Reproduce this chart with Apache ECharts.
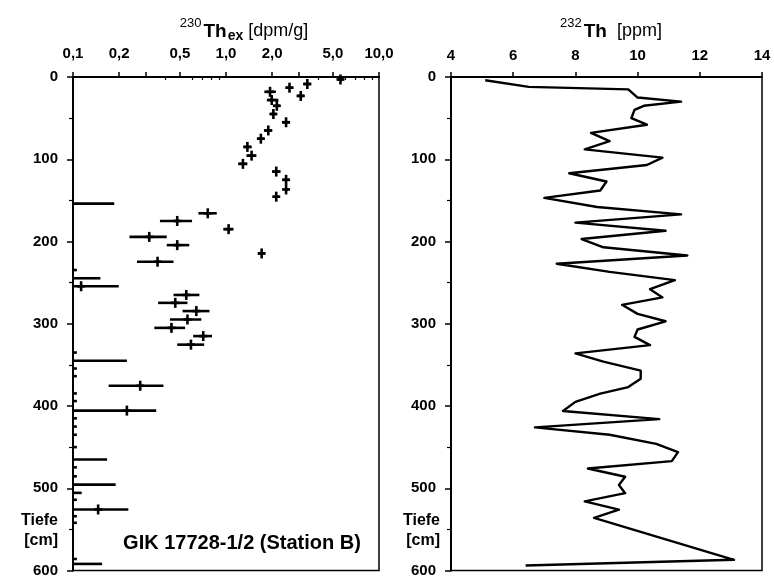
<!DOCTYPE html>
<html>
<head>
<meta charset="utf-8">
<script src="https://cdn.jsdelivr.net/npm/echarts@6/dist/echarts.min.js"></script>
<style>
html,body{margin:0;padding:0;background:#fff;}
#chart{width:774px;height:578px;}
</style>
</head>
<body>
<div id="chart"></div>
<script>
// ---------- Left panel: 230Th_ex [dpm/g] vs depth ----------
var thDepth = [3, 8.5, 13, 18, 23, 28, 35, 45, 55, 65, 75, 85, 95.6, 105.6, 115, 125, 136.7, 145.5,
  154, 165.7, 175, 185, 194.4, 204.4, 214.5, 224.6, 234.7, 244.7, 254.4, 265, 274.6, 284.6, 294.8,
  305, 315, 325.4, 335, 345, 354.4, 363.7, 375.4, 384.7, 394, 405.6, 415, 425, 435, 450, 465,
  474.6, 485.5, 495.6, 505.6, 514, 525.8, 534, 542, 586, 592];
var thValue = [5.6, 3.4, 2.6, 1.94, 3.08, 1.99, 2.15, 2.04, 2.47, 1.89, 1.69, 1.38, 1.47, 1.29, 2.13, 2.47, 2.47, 2.13,
  null, 0.76, 0.48, 1.04, 0.315, 0.48, 1.71, 0.357, null, null, 0.113, 0.55, 0.466, 0.64, 0.56,
  0.44, 0.71, 0.59, null, null, null, null, 0.275, null, null, 0.225, null, null, null, null, null,
  null, null, null, null, null, 0.146, null, null, null, null];
var thLow = [5.35, 3.2, 2.45, 1.78, 2.9, 1.85, 2.05, 1.95, 2.32, 1.77, 1.6, 1.3, 1.36, 1.2, 2.0, 2.35, 2.4, 2.07,
  0.1, 0.66, 0.37, 0.96, 0.234, 0.41, 1.62, 0.262, 0.1, 0.1, 0.1, 0.454, 0.36, 0.52, 0.43,
  0.34, 0.61, 0.48, 0.1, 0.1, 0.1, 0.1, 0.171, 0.1, 0.1, 0.1, 0.1, 0.1, 0.1, 0.1, 0.1,
  0.1, 0.1, 0.1, 0.1, 0.1, 0.1, 0.1, 0.1, 0.1, 0.1];
var thHigh = [5.85, 3.6, 2.75, 2.12, 3.25, 2.2, 2.25, 2.13, 2.62, 2.0, 1.78, 1.47, 1.58, 1.38, 2.27, 2.6, 2.55, 2.2,
  0.186, 0.87, 0.60, 1.12, 0.41, 0.575, 1.8, 0.454, 0.106, 0.151, 0.199, 0.67, 0.56, 0.78, 0.69,
  0.54, 0.81, 0.72, 0.106, 0.225, 0.106, 0.106, 0.39, 0.106, 0.106, 0.35, 0.106, 0.106, 0.106, 0.106, 0.167,
  0.106, 0.106, 0.19, 0.114, 0.106, 0.23, 0.106, 0.106, 0.106, 0.155];
var thTickLabels = [0.1, 0.2, 0.5, 1, 2, 5, 10];
var thMajorTicks = [0.1, 0.2, 0.3, 0.5, 1, 2, 3, 5, 10];
var thMinorTicks = [0.4, 0.6, 0.7, 0.8, 0.9, 4, 6, 7, 8, 9];

// ---------- Right panel: 232Th [ppm] vs depth ----------
var th232Depth = [4, 12, 15, 25, 30, 35, 40, 50, 58, 68, 78, 88, 98, 107, 117, 127, 138, 147, 158, 167,
  177, 187, 197, 207, 217, 227, 237, 247, 258, 268, 277, 288, 297, 307, 316, 326, 336, 346, 357,
  367, 377, 385, 395, 406, 416, 426, 435, 446, 456, 467, 476, 486, 496, 506, 516, 526, 536, 587, 594];
var th232Value = [5.1, 6.5, 9.7, 10.0, 11.4, 10.2, 9.9, 9.8, 10.3, 8.5, 9.1, 8.3, 10.8, 10.3, 7.8, 9.0, 8.8, 7.0, 8.7, 11.4,
  8.0, 10.9, 8.2, 8.9, 11.6, 7.4, 9.1, 11.2, 10.4, 10.8, 9.5, 10.0, 10.9, 10.0, 9.9, 10.4, 8.0, 8.9, 10.1,
  10.1, 9.7, 8.8, 8.0, 7.6, 10.7, 6.7, 9.1, 10.6, 11.3, 11.1, 8.4, 9.6, 9.4, 9.6, 8.3, 9.4, 8.6, 13.1, 6.4];
var th232Ticks = [4, 6, 8, 10, 12, 14];

var depthTicks = [0, 100, 200, 300, 400, 500, 600];

// ---------- build ----------
var FONT = "'Liberation Sans', Arial, Helvetica, sans-serif";
var barData = [], markData = [];
for (var i = 0; i < thDepth.length; i++) {
  barData.push([thLow[i], thHigh[i], thDepth[i]]);
  if (thValue[i] !== null) markData.push([thValue[i], thDepth[i]]);
}
var lineData = th232Depth.map(function (d, i) { return [th232Value[i], d]; });

function fmtComma(v) {
  var s = (Math.round(v * 10) / 10).toFixed(1);
  return s.replace('.', ',');
}

var chart = echarts.init(document.getElementById('chart'), null, {renderer: 'canvas'});
var labelStyle = {color: '#000', fontFamily: FONT, fontWeight: 'bold', fontSize: 15};

var yAxisCommon = function (gridIndex) {
  return {
    type: 'value', gridIndex: gridIndex, inverse: true, min: 0, max: 600, interval: 100,
    axisLine: {show: true, lineStyle: {color: '#000', width: 2}},
    axisTick: {show: true, length: 6, lineStyle: {color: '#000', width: 1.5}},
    minorTick: {show: true, splitNumber: 2, length: 4, lineStyle: {color: '#000', width: 1.2}},
    splitLine: {show: false},
    axisLabel: Object.assign({margin: 15, formatter: function (v) { return String(v); }}, labelStyle)
  };
};

function titleRich() {
  return {
    a: {fontSize: 13, fontFamily: FONT, color: '#000', verticalAlign: 'top', lineHeight: 26},
    b: {fontSize: 19, fontFamily: FONT, fontWeight: 'bold', color: '#000', lineHeight: 26, padding: [3, 0, 0, 2]},
    c: {fontSize: 14, fontFamily: FONT, fontWeight: 'bold', color: '#000', verticalAlign: 'bottom', lineHeight: 26, padding: [12, 0, 0, 1]},
    d: {fontSize: 18, fontFamily: FONT, color: '#000', lineHeight: 26, padding: [3, 0, 0, 0]}
  };
}

var option = {
  animation: false,
  backgroundColor: '#fff',
  title: [
    {
      text: '{a|230}{b|Th}{c|ex}{d| [dpm/g]}',
      left: 239, top: 12, textAlign: 'center',
      textStyle: {fontFamily: FONT, fontWeight: 'normal', rich: titleRich()}
    },
    {
      text: '{a|232}{b|Th}{d|  [ppm]}',
      left: 606, top: 12, textAlign: 'center',
      textStyle: {fontFamily: FONT, fontWeight: 'normal', rich: titleRich()}
    }
  ],
  grid: [
    {left: 73, top: 77, width: 306, height: 496, show: true, borderColor: '#000', borderWidth: 1.5, backgroundColor: 'transparent'},
    {left: 451, top: 77, width: 311, height: 496, show: true, borderColor: '#000', borderWidth: 1.5, backgroundColor: 'transparent'}
  ],
  xAxis: [
    {
      type: 'log', gridIndex: 0, position: 'top', min: 0.1, max: 10, logBase: 10,
      axisLine: {show: true, lineStyle: {color: '#000', width: 2}},
      axisTick: {show: true, length: 5, customValues: thMajorTicks, lineStyle: {color: '#000', width: 1.5}},
      splitLine: {show: false},
      axisLabel: Object.assign({margin: 16, customValues: thTickLabels, formatter: fmtComma}, labelStyle)
    },
    {
      type: 'log', gridIndex: 0, position: 'top', min: 0.1, max: 10, logBase: 10,
      axisLine: {show: false},
      axisTick: {show: true, inside: true, length: 3, customValues: thMinorTicks, lineStyle: {color: '#000', width: 1.2}},
      splitLine: {show: false},
      axisLabel: {show: false}
    },
    {
      type: 'value', gridIndex: 1, position: 'top', min: 4, max: 14, interval: 2,
      axisLine: {show: true, lineStyle: {color: '#000', width: 2}},
      axisTick: {show: true, length: 5, lineStyle: {color: '#000', width: 1.5}},
      splitLine: {show: false},
      axisLabel: Object.assign({margin: 14, formatter: function (v) { return String(v); }}, labelStyle)
    }
  ],
  yAxis: [yAxisCommon(0), yAxisCommon(1)],
  graphic: [
    {type: 'text', x: 58, y: 521, style: {text: 'Tiefe', align: 'right', verticalAlign: 'middle', fill: '#000', font: 'bold 16px ' + FONT}},
    {type: 'text', x: 58, y: 541, style: {text: '[cm]', align: 'right', verticalAlign: 'middle', fill: '#000', font: 'bold 16px ' + FONT}},
    {type: 'text', x: 440, y: 521, style: {text: 'Tiefe', align: 'right', verticalAlign: 'middle', fill: '#000', font: 'bold 16px ' + FONT}},
    {type: 'text', x: 440, y: 541, style: {text: '[cm]', align: 'right', verticalAlign: 'middle', fill: '#000', font: 'bold 16px ' + FONT}},
    {type: 'text', x: 242, y: 543, style: {text: 'GIK 17728-1/2 (Station B)', align: 'center', verticalAlign: 'middle', fill: '#000', font: 'bold 20px ' + FONT}}
  ],
  series: [
    {
      type: 'custom', xAxisIndex: 0, yAxisIndex: 0, data: barData,
      encode: {x: [0, 1], y: 2},
      renderItem: function (params, api) {
        var p1 = api.coord([api.value(0), api.value(2)]);
        var p2 = api.coord([api.value(1), api.value(2)]);
        return {type: 'line', shape: {x1: p1[0], y1: p1[1], x2: p2[0], y2: p2[1]},
          style: {stroke: '#000', lineWidth: 2.6}};
      }
    },
    {
      type: 'custom', xAxisIndex: 0, yAxisIndex: 0, data: markData,
      encode: {x: 0, y: 1},
      renderItem: function (params, api) {
        var p = api.coord([api.value(0), api.value(1)]);
        return {type: 'group', children: [
          {type: 'line', shape: {x1: p[0], y1: p[1] - 5, x2: p[0], y2: p[1] + 5}, style: {stroke: '#000', lineWidth: 2.6}},
          {type: 'line', shape: {x1: p[0] - 4, y1: p[1], x2: p[0] + 4, y2: p[1]}, style: {stroke: '#000', lineWidth: 2.6}}
        ]};
      }
    },
    {
      type: 'line', xAxisIndex: 2, yAxisIndex: 1, data: lineData,
      showSymbol: false, symbol: 'none',
      lineStyle: {color: '#000', width: 2.4, join: 'round'}
    }
  ]
};
chart.setOption(option);
</script>
</body>
</html>
